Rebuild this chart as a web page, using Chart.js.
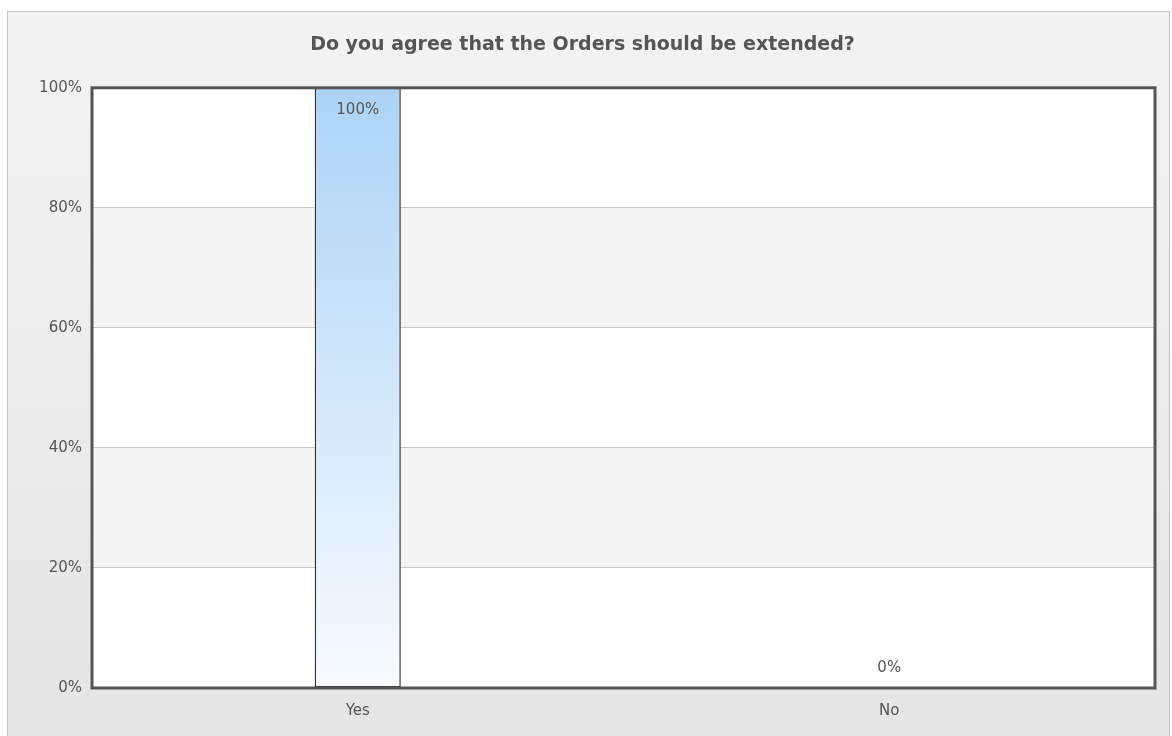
<!DOCTYPE html>
<html>
<head>
<meta charset="utf-8">
<script src="https://cdn.jsdelivr.net/npm/chart.js@4.4.0/dist/chart.umd.min.js"></script>
<style>
  html, body { margin: 0; padding: 0; background: #fff; }
  #wrap { width: 1172px; height: 736px; }
</style>
</head>
<body>
<div id="wrap"><canvas id="chart" width="1172" height="736"></canvas></div>
<script>
const categories = ['Yes', 'No']
const percents = [100, 0]
const yTicks = [0, 20, 40, 60, 80, 100]
const titleText = 'Do you agree that the Orders should be extended?'

// outer panel + alternating bands behind the plot
const backdrop = {
    id: 'backdrop',
    beforeDraw(chart) {
        const ctx = chart.ctx
        const a = chart.chartArea
        const y = chart.scales.y
        ctx.save()
        const g = ctx.createLinearGradient(0, 11, 0, 736)
        g.addColorStop(0, '#f3f3f3')
        g.addColorStop(1, '#e5e5e5')
        ctx.fillStyle = g
        ctx.fillRect(7, 11, 1163, 730)
        ctx.strokeStyle = '#c4c4c4'
        ctx.lineWidth = 1
        ctx.strokeRect(7.5, 11.5, 1162, 730)
        for (let i = 0; i < yTicks.length - 1; i++) {
            const top = y.getPixelForValue(yTicks[i + 1])
            const bot = y.getPixelForValue(yTicks[i])
            ctx.fillStyle = i % 2 === 0 ? '#ffffff' : '#f5f5f5'
            ctx.fillRect(a.left, top, a.right - a.left, bot - top)
        }
        ctx.restore()
    }
}

// plot frame and value labels
const frame = {
    id: 'frame',
    afterDatasetsDraw(chart) {
        const ctx = chart.ctx
        const a = chart.chartArea
        ctx.save()
        ctx.strokeStyle = '#555'
        ctx.lineWidth = 3
        ctx.strokeRect(a.left, a.top, a.right - a.left, a.bottom - a.top)
        ctx.font = '15px "DejaVu Sans", Verdana, sans-serif'
        ctx.fillStyle = '#555'
        ctx.textAlign = 'center'
        ctx.textBaseline = 'middle'
        chart.getDatasetMeta(0).data.forEach((bar, i) => {
            const v = percents[i]
            const ty = v > 90 ? bar.y + 22 : bar.y - 20
            ctx.fillText(v + '%', bar.x, ty)
        })
        ctx.restore()
    }
}

new Chart(document.getElementById('chart'), {
    type: 'bar',
    data: {
        labels: categories,
        datasets: [{
            data: percents,
            backgroundColor: (c) => {
                const a = c.chart.chartArea
                if (!a) return '#cfe5f8'
                const g = c.chart.ctx.createLinearGradient(0, a.top, 0, a.bottom)
                g.addColorStop(0, '#acd3f5')
                g.addColorStop(1, '#f8fbff')
                return g
            },
            borderColor: '#333',
            borderWidth: 1.5,
            borderSkipped: false,
            categoryPercentage: 1,
            barPercentage: 0.162
        }]
    },
    options: {
        responsive: false,
        animation: false,
        layout: { padding: { left: 10, right: 17, top: 0, bottom: 0 } },
        plugins: {
            legend: { display: false },
            tooltip: { enabled: false },
            title: {
                display: true,
                text: titleText,
                color: '#555',
                font: { family: '"DejaVu Sans", Verdana, sans-serif', size: 19, weight: 'bold' },
                padding: { top: 34, bottom: 31 }
            }
        },
        scales: {
            x: {
                grid: { display: false, drawTicks: false },
                border: { display: false },
                ticks: { color: '#555', font: { family: '"DejaVu Sans", Verdana, sans-serif', size: 15 }, padding: 14 },
                afterFit: (s) => { s.height = 48 }
            },
            y: {
                min: 0,
                max: 100,
                grid: { color: '#c8c8c8', drawTicks: false },
                border: { display: false },
                ticks: {
                    stepSize: 20,
                    color: '#555',
                    font: { family: '"DejaVu Sans", Verdana, sans-serif', size: 15 },
                    padding: 10,
                    callback: (v) => v + '%'
                },
                afterFit: (s) => { s.width = 82 }
            }
        }
    },
    plugins: [backdrop, frame]
})
</script>
</body>
</html>
